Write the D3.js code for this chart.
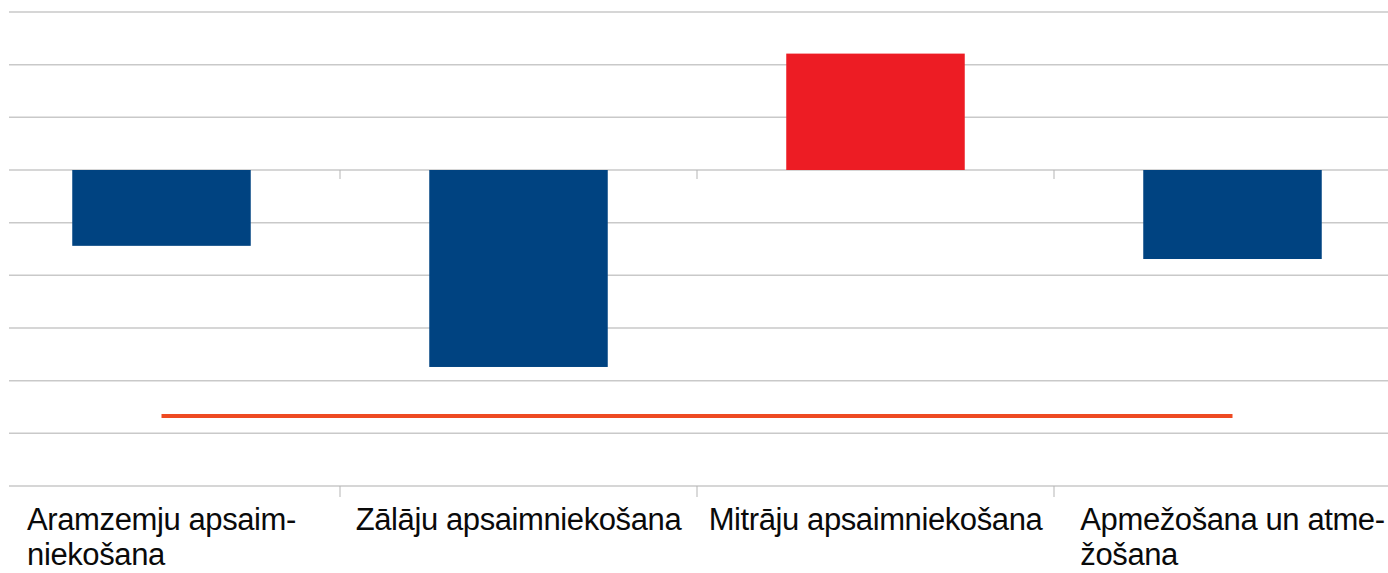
<!DOCTYPE html>
<html>
<head>
<meta charset="utf-8">
<script src="https://cdn.jsdelivr.net/npm/d3@7"></script>
<style>
  html, body { margin: 0; padding: 0; background: #fff; }
  svg { display: block; }
</style>
</head>
<body>
<div id="chart"></div>
<script>
// Données du graphique
const categories = ["Aramzemju apsaimniekošana", "Zālāju apsaimniekošana", "Mitrāju apsaimniekošana", "Apmežošana un atmežošana"];
const labelLines = [
    ["Aramzemju apsaim-", "niekošana"],
    ["Zālāju apsaimniekošana"],
    ["Mitrāju apsaimniekošana"],
    ["Apmežošana un atme-", "žošana"]
];
const barValues = [-1.44, -3.74, 2.21, -1.69];
const lineValues = [-4.67, -4.67, -4.67, -4.67];
const yTicks = [3, 2, 1, 0, -1, -2, -3, -4, -5, -6];

const width = 1388;
const height = 573;

const svg = d3.select("#chart")
    .append("svg")
    .attr("width", width)
    .attr("height", height);

// Échelles
const x = d3.scaleBand()
    .domain(categories)
    .range([-17, 1411])
    .paddingInner(0.5)
    .paddingOuter(0.25);

const y = d3.scaleLinear()
    .domain([-6, 3])
    .range([486, 12]);

// Lignes de grille
svg.append("g")
    .selectAll("line")
    .data(yTicks)
    .enter().append("line")
    .attr("x1", 9)
    .attr("x2", width)
    .attr("y1", d => y(d))
    .attr("y2", d => y(d))
    .attr("stroke", "#c9c9c9")
    .attr("stroke-width", 1.5);

// Séparateurs de catégories (sur l'axe zéro et l'axe du bas)
const step = x.step();
const bounds = categories.slice(1).map(c => x(c) - step * x.paddingInner() / 2);
[[0, 9], [-6, 11]].forEach(([v, len]) => {
    svg.append("g")
        .selectAll("line")
        .data(bounds)
        .enter().append("line")
        .attr("x1", d => d)
        .attr("x2", d => d)
        .attr("y1", y(v))
        .attr("y2", y(v) + len)
        .attr("stroke", "#b5b5b5")
        .attr("stroke-width", 1);
});

// Barres
svg.append("g")
    .selectAll("rect")
    .data(categories)
    .enter().append("rect")
    .attr("x", d => x(d))
    .attr("width", x.bandwidth())
    .attr("y", (d, i) => y(Math.max(0, barValues[i])))
    .attr("height", (d, i) => Math.abs(y(barValues[i]) - y(0)))
    .attr("fill", (d, i) => barValues[i] > 0 ? "#ed1c24" : "#004381");

// Ligne
const line = d3.line()
    .x((d, i) => x(categories[i]) + x.bandwidth() / 2)
    .y(d => y(d));

svg.append("path")
    .datum(lineValues)
    .attr("d", line)
    .attr("fill", "none")
    .attr("stroke", "#ee4a22")
    .attr("stroke-width", 4);

// Étiquettes des catégories
const labels = svg.append("g")
    .attr("font-family", "'Liberation Sans', Arial, sans-serif")
    .attr("font-size", "31px")
    .attr("fill", "#0a0a0a");

categories.forEach((c, i) => {
    const g = labels.append("g");
    const texts = labelLines[i].map((t, j) => g.append("text")
        .attr("y", 530 + j * 35)
        .attr("letter-spacing", "-0.4px")
        .text(t));
    const maxW = d3.max(texts, t => t.node().getComputedTextLength());
    const cx = x(c) + x.bandwidth() / 2;
    texts.forEach(t => t.attr("x", cx - maxW / 2));
});
</script>
</body>
</html>
